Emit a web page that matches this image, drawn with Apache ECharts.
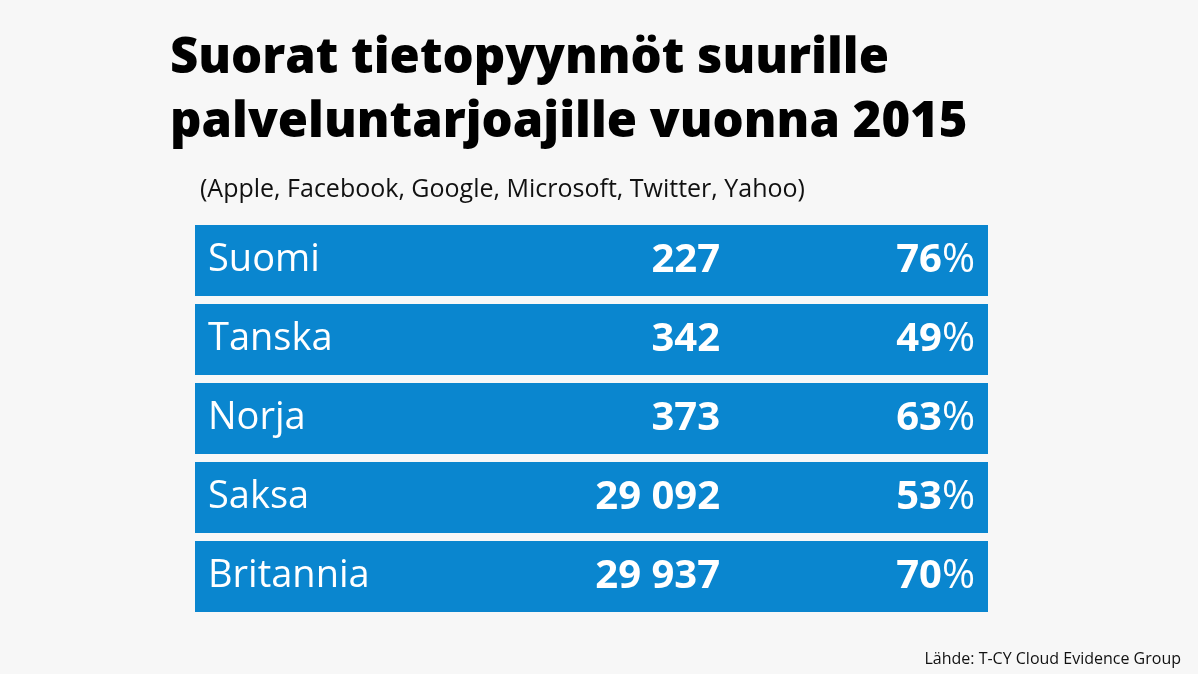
<!DOCTYPE html>
<html><head><meta charset="utf-8">
<script src="https://cdn.jsdelivr.net/npm/echarts@6/dist/echarts.min.js"></script>
<style>html,body{margin:0;background:#f7f7f7}#c{width:1198px;height:674px}</style>
</head><body><div id="c"></div>
<script>
const countries = ['Suomi','Tanska','Norja','Saksa','Britannia'];
const requests = [227, 342, 373, 29092, 29937];
const shares = [76, 49, 63, 53, 70];
const fmt = n => String(n).replace(/\B(?=(\d{3})+(?!\d))/g, ' ');
const chart = echarts.init(document.getElementById('c'));
chart.setOption({
  backgroundColor:'#f7f7f7',
  title:[
    {text:'Suorat tietopyynnöt suurille\npalveluntarjoajille vuonna 2015',left:165,top:22,
     textStyle:{fontFamily:'Open Sans',fontWeight:900,fontSize:49,lineHeight:64,color:'#000'}},
    {text:'(Apple, Facebook, Google, Microsoft, Twitter, Yahoo)',left:195,top:172,
     textStyle:{fontFamily:'Open Sans',fontWeight:'normal',fontSize:25,color:'#111'}},
    {text:'Lähde: T-CY Cloud Evidence Group',right:12,top:646,
     textStyle:{fontFamily:'Open Sans',fontWeight:'normal',fontSize:16,color:'#111'}}
  ],
  grid:{left:195,right:210,top:221,bottom:58},
  xAxis:{type:'value',min:0,max:1,show:false},
  yAxis:{type:'category',data:countries,inverse:true,show:false},
  series:[{
    type:'custom',
    data:countries.map((c,i)=>[i]),
    renderItem:(params,api)=>{
      const i=api.value(0);
      const p0=api.coord([0,i]), p1=api.coord([1,i]);
      const h=71, y=p0[1]-h/2;
      return {type:'group',children:[
        {type:'rect',shape:{x:p0[0],y:y,width:p1[0]-p0[0],height:h},style:{fill:'#0a86cf'}},
        {type:'text',style:{x:p0[0]+13,y:p0[1],text:countries[i],fill:'#fff',font:'38px "Open Sans"',textVerticalAlign:'middle'}},
        {type:'text',style:{x:p0[0]+525,y:p0[1],text:fmt(requests[i]),fill:'#fff',font:'bold 40px "Open Sans"',textAlign:'right',textVerticalAlign:'middle'}},
        {type:'text',style:{x:p0[0]+780,y:p0[1],text:'{b|'+shares[i]+'}{p|%}',textAlign:'right',textVerticalAlign:'middle',
          rich:{b:{fill:'#fff',fontSize:40,fontWeight:'bold',fontFamily:'Open Sans'},
                p:{fill:'#fff',fontSize:40,fontWeight:'normal',fontFamily:'Open Sans'}}}}
      ]};
    }
  }]
});
</script></body></html>
